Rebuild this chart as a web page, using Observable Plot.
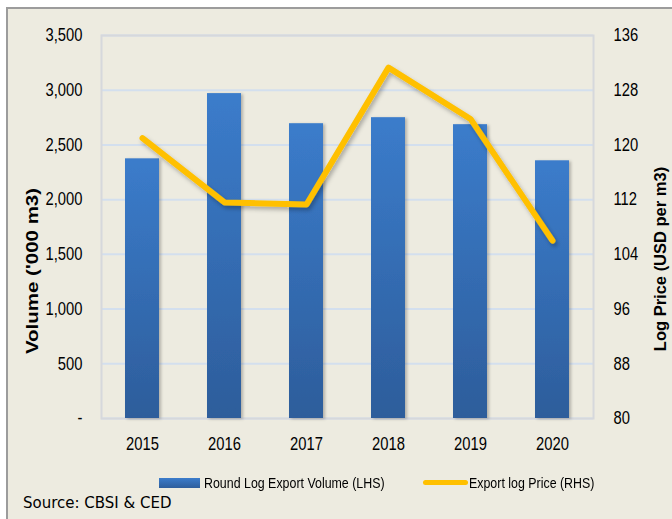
<!DOCTYPE html>
<html><head><meta charset="utf-8">
<script src="https://cdn.jsdelivr.net/npm/d3@7"></script>
<script src="https://cdn.jsdelivr.net/npm/@observablehq/plot@0.6"></script>
<style>
body{margin:0;background:#fff;}
#wrap{position:relative;width:672px;height:519px;overflow:hidden;background:#fff;}
#panel{position:absolute;left:6px;top:7px;width:666px;height:512px;background:#EDEBE0;border-left:2px solid #9c9c9c;border-top:2px solid #9c9c9c;box-sizing:border-box;}
#chart{position:absolute;left:0;top:0;}
.lg{position:absolute;font-family:"Liberation Sans",Arial,sans-serif;font-size:15.5px;color:#000;white-space:nowrap;transform:scaleX(0.8);transform-origin:0 50%;line-height:18px;}
.sw1{position:absolute;left:159px;top:478px;width:41px;height:10px;background:linear-gradient(#3b7ccb,#2e5e9c);}
.sw2{position:absolute;left:423px;top:480px;width:45px;height:5px;background:#FFC000;border-radius:3px;}
#source{position:absolute;left:23px;top:494px;font-family:"DejaVu Sans",sans-serif;font-size:15px;color:#000;}
</style></head>
<body>
<div id="wrap"><div id="panel"></div><div id="chart"></div>
<span class="sw1"></span><span class="lg" style="left:204px;top:474px;">Round Log Export Volume (LHS)</span>
<span class="sw2"></span><span class="lg" style="left:469px;top:474px;">Export log Price (RHS)</span>
<div id="source">Source: CBSI &amp; CED</div>
</div>
<script>
const years = ["2015","2016","2017","2018","2019","2020"];
const volume = [2373, 2969, 2694, 2749, 2685, 2355];
const price = [121.0, 111.6, 111.3, 131.3, 123.8, 106.0];
const volumeTicks = [0, 500, 1000, 1500, 2000, 2500, 3000, 3500];
const priceTicks = [80, 88, 96, 104, 112, 120, 128, 136];

const pMin = 80, pMax = 136, vMax = 3500;
const toY = p => (p - pMin) / (pMax - pMin) * vMax;
const fromY = v => v / vMax * (pMax - pMin) + pMin;

const rows = years.map((y, i) => ({year: y, volume: volume[i], price: price[i], py: toY(price[i])}));
const font = "'Liberation Sans',Arial,sans-serif";

const chart = Plot.plot({
  width: 672,
  height: 460,
  marginLeft: 101,
  marginRight: 79,
  marginTop: 35,
  marginBottom: 42,
  style: {background: "transparent", fontFamily: font, fontSize: "18px", color: "#000"},
  x: {domain: years, paddingInner: 0.585, paddingOuter: 0.2925, axis: null},
  y: {domain: [0, vMax], axis: null},
  marks: [
    Plot.gridY(volumeTicks, {stroke: "#d3dfee", strokeOpacity: 1, strokeWidth: 2}),
    Plot.frame({stroke: "#d6d8dc", strokeWidth: 2}),
    Plot.barY(rows, {x: "year", y: "volume", fill: "url(#barGrad)"}),
    Plot.line(rows, {x: "year", y: "py", stroke: "#FFC000", strokeWidth: 6, strokeLinejoin: "round", strokeLinecap: "round"}),
    Plot.axisX({tickSize: 0, tickPadding: 19, label: null, fontSize: 18, className: "narrow"}),
    Plot.axisY({ticks: volumeTicks, tickFormat: v => v === 0 ? "-" : d3.format(",")(v), tickSize: 0, tickPadding: 19, label: null, fontSize: 18, className: "narrow"}),
    Plot.axisY({anchor: "right", ticks: priceTicks.map(toY), tickFormat: v => String(Math.round(fromY(v))), tickSize: 0, tickPadding: 20, label: null, fontSize: 18, className: "narrow"}),
    Plot.text(["Volume ('000 m3)"], {frameAnchor: "left", text: d => d, rotate: -90, textAnchor: "middle", dx: -69, dy: 44, fontWeight: "bold", fontSize: 20.5, className: "ytitle"}),
    Plot.text(["Log Price (USD per m3)"], {frameAnchor: "right", text: d => d, rotate: -90, textAnchor: "middle", dx: 67, dy: 32, fontWeight: "bold", fontSize: 16.5, className: "ytitle2"})
  ]
});

const svg = d3.select(chart);
const defs = svg.insert("defs", ":first-child");
const g = defs.append("linearGradient").attr("id", "barGrad").attr("x1", 0).attr("y1", 0).attr("x2", 0).attr("y2", 1);
g.append("stop").attr("offset", "0%").attr("stop-color", "#3b7ccb");
g.append("stop").attr("offset", "100%").attr("stop-color", "#2d5d9b");
const f1 = defs.append("filter").attr("id", "barShadow").attr("x", "-20%").attr("y", "-20%").attr("width", "150%").attr("height", "150%");
f1.append("feDropShadow").attr("dx", 2).attr("dy", 1).attr("stdDeviation", 1.5).attr("flood-color", "#000").attr("flood-opacity", 0.25);
const f2 = defs.append("filter").attr("id", "lineShadow").attr("x", "-20%").attr("y", "-20%").attr("width", "150%").attr("height", "150%");
f2.append("feDropShadow").attr("dx", 2).attr("dy", 3).attr("stdDeviation", 2).attr("flood-color", "#000").attr("flood-opacity", 0.28);
svg.select('g[aria-label="bar"]').attr("filter", "url(#barShadow)");
svg.select('g[aria-label="line"]').attr("filter", "url(#lineShadow)");

// rotated left title: squeeze glyph height (horizontal on screen)
svg.selectAll("g.ytitle text").each(function(){
  const t = this.getAttribute("transform") || "";
  this.setAttribute("transform", t + " scale(1,0.8)");
});
document.getElementById("chart").appendChild(chart);
// condensed tick labels (Arial Narrow look)
svg.selectAll("g.narrow text").each(function(){
  const w = this.getComputedTextLength();
  if (w > 0) {
    this.setAttribute("textLength", (w * 0.82).toFixed(2));
    this.setAttribute("lengthAdjust", "spacingAndGlyphs");
  }
});
</script>
</body></html>
